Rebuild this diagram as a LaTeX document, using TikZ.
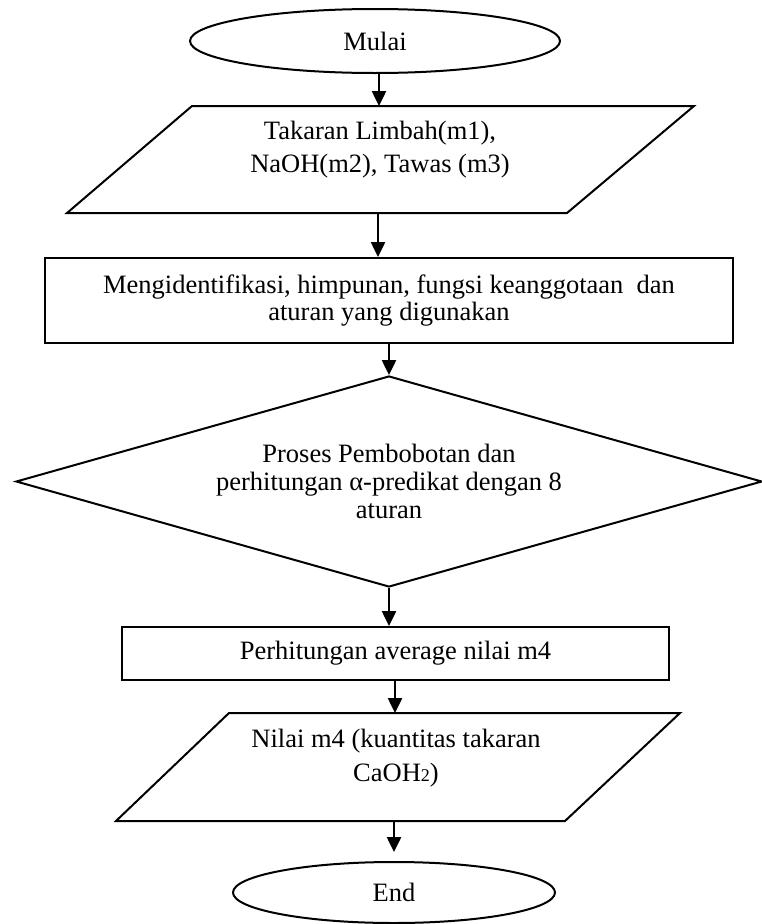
\documentclass[tikz,border=0pt]{standalone}
\usepackage{fontspec}
\setmainfont{Liberation Serif}
\usetikzlibrary{shapes.geometric, arrows.meta}
\begin{document}
\begin{tikzpicture}[x=1pt, y=-1pt,
  every node/.style={font=\fontsize{26.5}{28}\selectfont, text=black},
  shapeline/.style={draw=black, line width=2pt},
  terminal/.style={shapeline, ellipse, inner sep=0pt},
  process/.style={shapeline, rectangle, inner sep=0pt, align=center},
  decision/.style={shapeline, diamond, aspect=3.5, inner sep=0pt, align=center},
  textblock/.style={align=center, inner sep=0pt},
  flow/.style={line width=2.5pt, -{Triangle[length=15pt, width=14pt]}},
]
% page area
\fill[white] (0,0) rectangle (761,924);
\useasboundingbox (0,0) rectangle (761,924);

% start
\node[terminal, minimum width=370pt, minimum height=64pt] (start) at (375,41) {Mulai};

% input: amounts of waste, NaOH and alum
\coordinate (in1tl) at (192,106);
\coordinate (in1tr) at (694,106);
\coordinate (in1br) at (567,213);
\coordinate (in1bl) at (67,213);
\draw[shapeline] (in1tl) -- (in1tr) -- (in1br) -- (in1bl) -- cycle;
\coordinate (in1top) at (379,106);
\coordinate (in1bot) at (378,213);
\node[textblock, font=\fontsize{26.5}{33}\selectfont] (in1text) at (380,149.5)
  {Takaran Limbah(m1),\\NaOH(m2), Tawas (m3)};

% identification step
\node[process, minimum width=688pt, minimum height=85pt, font=\fontsize{26.5}{27}\selectfont]
  (ident) at (389,300.5)
  {Mengidentifikasi, himpunan, fungsi keanggotaan\ \ dan\\aturan yang digunakan};

% weighting / alpha-predicate
\node[decision, minimum width=746pt, minimum height=211pt] (weigh) at (389,481.5)
  {Proses Pembobotan dan\\perhitungan α-predikat dengan 8\\aturan};

% averaging
\node[process, minimum width=547pt, minimum height=53pt] (avg) at (395.5,653.5)
  {Perhitungan average nilai m4};

% output: m4
\coordinate (outtl) at (229,713);
\coordinate (outtr) at (680,713);
\coordinate (outbr) at (565,821);
\coordinate (outbl) at (116,821);
\draw[shapeline] (outtl) -- (outtr) -- (outbr) -- (outbl) -- cycle;
\coordinate (outtop) at (395,713);
\coordinate (outbot) at (394,821);
\node[textblock, font=\fontsize{26.5}{34}\selectfont] (outtext) at (396,758)
  {Nilai m4 (kuantitas takaran\\CaOH{\fontsize{18}{18}\selectfont 2})};

% end
\node[terminal, minimum width=322pt, minimum height=61pt] (stop) at (394,892.5) {End};

% connectors
\draw[flow] (start.south -| in1top) -- (in1top);
\draw[flow] (in1bot) -- (in1bot |- ident.north);
\draw[flow] (ident.south -| weigh.north) -- (weigh.north);
\draw[flow] (weigh.south) -- (weigh.south |- avg.north);
\draw[flow] (avg.south -| outtop) -- (outtop);
\draw[flow, shorten >=9pt] (outbot) -- (outbot |- stop.north);
\end{tikzpicture}
\end{document}
